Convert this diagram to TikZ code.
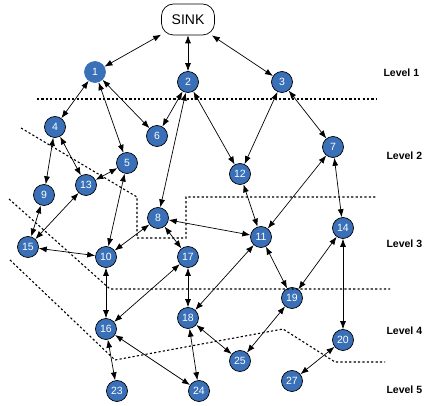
\documentclass[tikz,border=0pt]{standalone}
\usepackage{fontspec}
\setmainfont{Liberation Sans}
\usetikzlibrary{arrows.meta}
\definecolor{nodeblue}{RGB}{58,112,184}

\begin{document}
\begin{tikzpicture}[x=1pt, y=-1pt,
    sensor/.style={circle, draw=black, line width=0.7pt, fill=nodeblue, text=white,
      minimum size=21pt, inner sep=0pt, font=\fontsize{10.5}{12}\selectfont},
    link/.style={{Latex[length=8pt,width=6pt]}-{Latex[length=8pt,width=6pt]}, line width=0.7pt},
    border/.style={dash pattern=on 2.2pt off 2.2pt, line width=1.1pt},
    level/.style={anchor=west, font=\fontsize{10.5}{13}\selectfont\bfseries}]
  \useasboundingbox (0,0) rectangle (424,406);

  \node[draw, rounded corners=12pt, minimum width=53pt, minimum height=31pt,
    line width=0.7pt, font=\fontsize{14}{16}\selectfont] (sink) at (188,19.5) {SINK};

  \node[sensor, draw=nodeblue] (n1) at (95,72) {1};
  \node[sensor] (n2) at (188,82) {2};
  \node[sensor] (n3) at (282,82) {3};
  \node[sensor] (n4) at (55,127) {4};
  \node[sensor] (n5) at (127,163) {5};
  \node[sensor] (n6) at (157,136) {6};
  \node[sensor] (n7) at (333,147) {7};
  \node[sensor] (n8) at (158,218) {8};
  \node[sensor] (n9) at (44,195) {9};
  \node[sensor] (n10) at (106,257) {10};
  \node[sensor] (n11) at (261,237) {11};
  \node[sensor] (n12) at (240,174) {12};
  \node[sensor] (n13) at (86,185) {13};
  \node[sensor] (n14) at (343,228) {14};
  \node[sensor] (n15) at (28,247) {15};
  \node[sensor] (n16) at (106,329) {16};
  \node[sensor] (n17) at (188,257) {17};
  \node[sensor] (n18) at (188,318) {18};
  \node[sensor] (n19) at (292,298) {19};
  \node[sensor] (n20) at (343,340) {20};
  \node[sensor] (n23) at (117,391) {23};
  \node[sensor] (n24) at (199,391) {24};
  \node[sensor] (n25) at (240,361) {25};
  \node[sensor] (n27) at (292,381) {27};

  \node[level] (l1) at (380,73) {Level 1};
  \node[level] (l2) at (383,156) {Level 2};
  \node[level] (l3) at (383,244) {Level 3};
  \node[level] (l4) at (383,331) {Level 4};
  \node[level] (l5) at (383,390) {Level 5};

  \draw[border] (37,99) -- (377,99);
  \draw[border] (21,128) -- (137,197) -- (137,238) -- (186,238) -- (186,197) -- (377,197);
  \draw[border] (9,199) -- (110,289) -- (390,289);
  \draw[border] (10,260) -- (115,360) -- (283,329) -- (335,362) -- (385,362);

  \draw[link] (sink) -- (n1);
  \draw[link] (sink) -- (n2);
  \draw[link] (sink) -- (n3);
  \draw[link] (n1) -- (n4);
  \draw[link] (n1) -- (n5);
  \draw[link] (n1) -- (n6);
  \draw[link] (n2) -- (n6);
  \draw[link] (n2) -- (n8);
  \draw[link] (n2) -- (n12);
  \draw[link] (n3) -- (n12);
  \draw[link] (n3) -- (n7);
  \draw[link] (n4) -- (n9);
  \draw[link] (n4) -- (n13);
  \draw[link] (n5) -- (n13);
  \draw[link] (n5) -- (n10);
  \draw[link] (n9) -- (n15);
  \draw[link] (n13) -- (n15);
  \draw[link] (n15) -- (n10);
  \draw[link] (n8) -- (n10);
  \draw[link] (n8) -- (n17);
  \draw[link] (n8) -- (n11);
  \draw[link] (n12) -- (n11);
  \draw[link] (n7) -- (n11);
  \draw[link] (n7) -- (n14);
  \draw[link] (n11) -- (n19);
  \draw[link] (n14) -- (n19);
  \draw[link] (n11) -- (n18);
  \draw[link] (n17) -- (n16);
  \draw[link] (n10) -- (n16);
  \draw[link] (n17) -- (n18);
  \draw[link] (n16) -- (n23);
  \draw[link] (n16) -- (n24);
  \draw[link] (n18) -- (n24);
  \draw[link] (n18) -- (n25);
  \draw[link] (n19) -- (n25);
  \draw[link] (n14) -- (n20);
  \draw[link] (n20) -- (n27);
\end{tikzpicture}
\end{document}
